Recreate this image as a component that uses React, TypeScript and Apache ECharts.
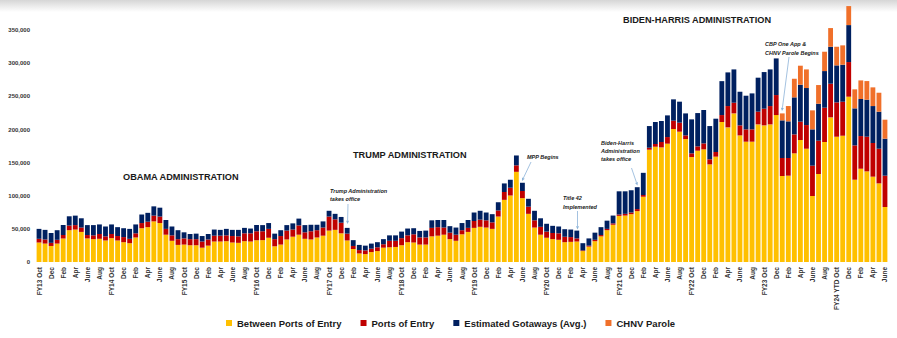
import React, { useEffect, useRef } from 'react';
import * as echarts from 'echarts';

const categories = [
  'FY13 Oct','Nov','Dec','Jan','Feb','Mar','Apr','May','June','July','Aug','Sep',
  'FY14 Oct','Nov','Dec','Jan','Feb','Mar','Apr','May','June','July','Aug','Sep',
  'FY15 Oct','Nov','Dec','Jan','Feb','Mar','Apr','May','June','July','Aug','Sep',
  'FY16 Oct','Nov','Dec','Jan','Feb','Mar','Apr','May','June','July','Aug','Sep',
  'FY17 Oct','Nov','Dec','Jan','Feb','Mar','Apr','May','June','July','Aug','Sep',
  'FY18 Oct','Nov','Dec','Jan','Feb','Mar','Apr','May','June','July','Aug','Sep',
  'FY19 Oct','Nov','Dec','Jan','Feb','Mar','Apr','May','June','July','Aug','Sep',
  'FY20 Oct','Nov','Dec','Jan','Feb','Mar','Apr','May','June','July','Aug','Sep',
  'FY21 Oct','Nov','Dec','Jan','Feb','Mar','Apr','May','June','July','Aug','Sep',
  'FY22 Oct','Nov','Dec','Jan','Feb','Mar','Apr','May','June','July','Aug','Sep',
  'FY23 Oct','Nov','Dec','Jan','Feb','Mar','Apr','May','June','July','Aug','Sep',
  'FY24 YTD Oct','Nov','Dec','Jan','Feb','Mar','Apr','May','June',
];

const betweenPorts = [
  29400, 27800, 24200, 27800, 35600, 48000, 49000, 45400, 35600, 34500, 35000, 32500,
  36000, 32500, 29900, 28400, 37000, 51000, 52600, 61300, 58800, 41200, 32000, 25800,
  26300, 25300, 25300, 21600, 24700, 30900, 30900, 31400, 29400, 28900, 31400, 30900,
  33000, 33000, 36600, 23700, 26300, 34000, 38200, 41200, 35000, 34000, 37000, 39700,
  47400, 48500, 43300, 32500, 19600, 12900, 11900, 15000, 16500, 21600, 22200, 22700,
  25300, 29900, 29400, 26300, 26300, 38700, 39700, 41200, 34500, 32000, 41800, 45400,
  51500, 53100, 52000, 50000, 68600, 93800, 100500, 136100, 96400, 72700, 52000, 41200,
  36600, 34500, 33500, 29900, 30400, 30900, 16500, 23200, 31400, 38700, 48000, 56200,
  69600, 70100, 72200, 76800, 98500, 169500, 174000, 173000, 178600, 200700, 196700, 185600,
  158400, 168000, 170000, 147400, 159000, 211300, 203200, 224300, 191100, 181600, 181600, 207700,
  206200, 207700, 221800, 129800, 130300, 164000, 184100, 171000, 99600, 132800, 181100, 218300,
  189100, 190600, 249500, 124200, 140800, 136800, 128800, 118700, 83000,
];

const portsOfEntry = [
  5600, 6200, 4700, 5700, 5100, 7000, 6700, 6600, 5100, 5700, 7300, 6200,
  6300, 6700, 7700, 6600, 6300, 7800, 8200, 8700, 9800, 8800, 8200, 8700,
  9300, 9200, 9200, 9300, 9300, 8800, 8800, 8800, 9800, 9800, 11900, 12400,
  13400, 13400, 13400, 10800, 12900, 13400, 10800, 14000, 9800, 12400, 11000, 12300,
  21200, 15900, 16000, 10300, 4600, 5100, 5600, 5100, 5700, 5200, 9800, 9300,
  10700, 10300, 12400, 10800, 10800, 12800, 12900, 10800, 9800, 9200, 6200, 6100,
  10400, 10800, 10900, 9800, 9200, 11900, 11400, 9800, 10800, 10800, 10900, 11900,
  9300, 9300, 9800, 8200, 7200, 4700, 1000, 1500, 2100, 2000, 2000, 2100,
  2100, 2600, 2500, 3100, 2600, 3000, 4100, 8100, 10000, 12600, 13600, 5500,
  5600, 6500, 9000, 7600, 7000, 10500, 32200, 16100, 15100, 18600, 18600, 19200,
  25200, 27700, 30200, 27200, 26700, 28600, 27700, 35700, 45800, 50300, 51800, 50800,
  51800, 51300, 52300, 51800, 49300, 52300, 50800, 52300, 47300,
];

const gotaways = [
  15000, 14500, 14900, 14500, 15000, 14000, 14300, 14000, 15000, 15500, 14400, 14900,
  14400, 13400, 13400, 15000, 13400, 12900, 13400, 14000, 13400, 13400, 13400, 13500,
  9200, 7800, 8300, 8300, 8300, 9300, 8800, 9800, 9300, 9800, 8200, 7200,
  9300, 9300, 8800, 8300, 8800, 8300, 9300, 10300, 10900, 9800, 8200, 9300,
  8700, 8300, 8700, 8700, 8800, 7800, 7200, 7700, 7700, 7700, 8200, 8200,
  9900, 10300, 9200, 9800, 10300, 11400, 10800, 11400, 9800, 10800, 10800, 11900,
  12800, 13400, 11800, 12400, 12400, 12900, 12300, 14900, 12400, 11900, 14400, 12900,
  11800, 10800, 10300, 11400, 11400, 11800, 10900, 10900, 10800, 11900, 12400, 11800,
  35000, 34000, 33600, 33000, 33500, 32700, 33200, 31700, 32700, 32200, 31700, 33200,
  51300, 50300, 50400, 50200, 50300, 51200, 50800, 50300, 50800, 50800, 54300, 51300,
  55300, 55300, 55300, 56800, 55300, 55900, 55800, 55900, 54800, 55800, 55300, 55800,
  55900, 55900, 55800, 55900, 55900, 55900, 55800, 55900, 55800,
];

const chnvParole = [
  0, 0, 0, 0, 0, 0, 0, 0, 0, 0, 0, 0,
  0, 0, 0, 0, 0, 0, 0, 0, 0, 0, 0, 0,
  0, 0, 0, 0, 0, 0, 0, 0, 0, 0, 0, 0,
  0, 0, 0, 0, 0, 0, 0, 0, 0, 0, 0, 0,
  0, 0, 0, 0, 0, 0, 0, 0, 0, 0, 0, 0,
  0, 0, 0, 0, 0, 0, 0, 0, 0, 0, 0, 0,
  0, 0, 0, 0, 0, 0, 0, 0, 0, 0, 0, 0,
  0, 0, 0, 0, 0, 0, 0, 0, 0, 0, 0, 0,
  0, 0, 0, 0, 0, 0, 0, 0, 0, 0, 0, 0,
  0, 0, 0, 0, 0, 0, 0, 0, 0, 0, 0, 0,
  0, 0, 0, 10500, 23100, 28100, 28700, 28100, 28700, 28200, 29200, 28200,
  28100, 29200, 28700, 28700, 28100, 28100, 28200, 28600, 28700,
];

const seriesNames = ['Between Ports of Entry', 'Ports of Entry', 'Estimated Gotaways (Avg.)', 'CHNV Parole'];
const seriesColors = ['#FFC000', '#C00000', '#002060', '#F0702A'];

const FONT = '"Liberation Sans", Arial, sans-serif';
const titleFont = `bold 9.2px ${FONT}`;
const annoFont = `italic bold 5.5px ${FONT}`;
const arrowColor = '#8DB3D8';

function txt(text: string, x: number, y: number, font: string) {
  return {
    type: 'text',
    x,
    y,
    z: 20,
    style: {
      text,
      font,
      fill: '#1a1a1a',
      textAlign: 'left',
      align: 'left',
      textVerticalAlign: 'middle',
      verticalAlign: 'middle',
    },
  };
}

function arrow(x1: number, y1: number, x2: number, y2: number) {
  const dx = x2 - x1;
  const dy = y2 - y1;
  const len = Math.hypot(dx, dy);
  const ux = dx / len;
  const uy = dy / len;
  const hl = 3.2;
  const hw = 1.5;
  const bx = x2 - ux * hl;
  const by = y2 - uy * hl;
  return [
    { type: 'line', z: 20, shape: { x1, y1, x2: bx, y2: by }, style: { stroke: arrowColor, lineWidth: 0.8 } },
    {
      type: 'polygon',
      z: 20,
      shape: { points: [[x2, y2], [bx - uy * hw, by + ux * hw], [bx + uy * hw, by - ux * hw]] },
      style: { fill: arrowColor },
    },
  ];
}

export default function App() {
  const ref = useRef<HTMLDivElement>(null);

  useEffect(() => {
    document.body.style.margin = '0';
    if (!ref.current) return;
    const chart = echarts.init(ref.current, undefined, { renderer: 'svg' });
    const seriesData = [betweenPorts, portsOfEntry, gotaways, chnvParole];

    const option: any = {
      animation: false,
      backgroundColor: '#ffffff',
      grid: { left: 36, right: 9, top: -3, bottom: 76, containLabel: false, outerBoundsMode: 'none' },
      legend: {
        data: seriesNames,
        left: 221,
        top: 313,
        icon: 'rect',
        itemWidth: 6,
        itemHeight: 6,
        itemGap: 19,
        textStyle: { fontSize: 9.5, fontWeight: 'bold', color: '#1a1a1a', fontFamily: FONT },
      },
      xAxis: {
        type: 'category',
        data: categories,
        axisLine: { show: false },
        axisTick: { show: false },
        splitLine: { show: false },
        axisLabel: {
          interval: 1,
          rotate: 90,
          fontSize: 6.5,
          fontWeight: 'bold',
          color: '#333333',
          fontFamily: FONT,
          margin: 5,
        },
      },
      yAxis: {
        type: 'value',
        min: 0,
        max: 400000,
        interval: 50000,
        axisLine: { show: false },
        axisTick: { show: false },
        splitLine: { show: false },
        axisLabel: {
          fontSize: 6,
          fontWeight: 'bold',
          color: '#333333',
          fontFamily: FONT,
          margin: 6,
          formatter: (v: number) => (v >= 400000 ? '' : v.toLocaleString('en-US')),
        },
      },
      series: seriesNames.map((name, i) => ({
        name,
        type: 'bar',
        stack: 'total',
        barWidth: '80%',
        z: 2,
        itemStyle: { color: seriesColors[i] },
        data: seriesData[i],
      })),
      graphic: [
        {
          type: 'rect',
          z: -1,
          shape: { x: 0, y: 0, width: 897, height: 12 },
          style: {
            fill: new echarts.graphic.LinearGradient(0, 0, 0, 1, [
              { offset: 0, color: '#d6d6d6' },
              { offset: 1, color: '#ffffff' },
            ]),
          },
        },
        txt('OBAMA ADMINISTRATION', 123, 177, titleFont),
        txt('TRUMP ADMINISTRATION', 353, 154.5, titleFont),
        txt('BIDEN-HARRIS ADMINISTRATION', 623, 19.5, titleFont),
        txt('Trump Administration', 330, 190.7, annoFont),
        txt('takes office', 330, 199.3, annoFont),
        ...arrow(348, 204, 347.5, 224),
        txt('MPP Begins', 527, 156.7, annoFont),
        ...arrow(531, 162, 522, 181),
        txt('Title 42', 563, 197.5, annoFont),
        txt('Implemented', 563, 206.5, annoFont),
        ...arrow(577.5, 211, 577.5, 229.5),
        txt('Biden-Harris', 601, 142.7, annoFont),
        txt('Administration', 601, 151, annoFont),
        txt('takes office', 601, 159, annoFont),
        ...arrow(631.5, 168, 637.5, 185.5),
        txt('CBP One App &', 765, 43.5, annoFont),
        txt('CHNV Parole Begins', 765, 52.7, annoFont),
        ...arrow(789, 57, 782, 111),
      ],
    };

    chart.setOption(option);
    return () => {
      chart.dispose();
    };
  }, []);

  return <div ref={ref} style={{ width: 897, height: 338 }} />;
}
